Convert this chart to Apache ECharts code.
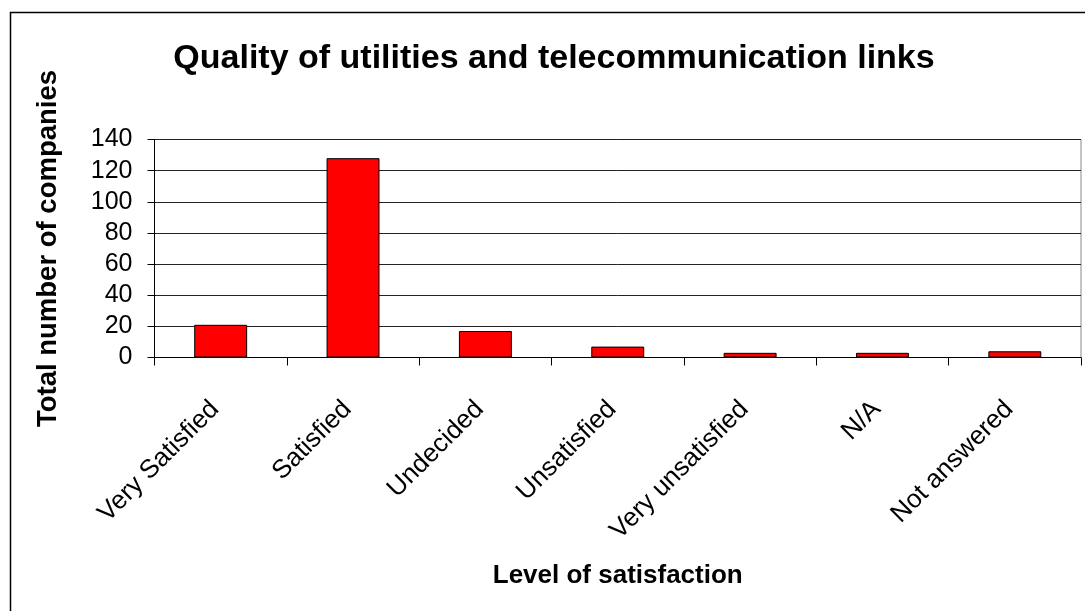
<!DOCTYPE html>
<html>
<head>
<meta charset="utf-8">
<script src="https://cdn.jsdelivr.net/npm/echarts@6/dist/echarts.min.js"></script>
<style>
html,body{margin:0;padding:0;background:#fff;}
#chart{width:1085px;height:611px;}
</style>
</head>
<body>
<div id="chart"></div>
<script>
const categories = ["Very Satisfied", "Satisfied", "Undecided", "Unsatisfied", "Very unsatisfied", "N/A", "Not answered"];
const companies = [21, 128, 17, 7, 3, 3, 4];
const yTicks = [0, 20, 40, 60, 80, 100, 120, 140];
const titleText = "Quality of utilities and telecommunication links";
const xName = "Level of satisfaction";
const yName = "Total number of companies";

const FONT = 'Arial, "Liberation Sans", sans-serif';
const chart = echarts.init(document.getElementById('chart'), null, {renderer: 'canvas'});
chart.setOption({
  animation: false,
  backgroundColor: '#fff',
  graphic: [{
    type: 'rect', left: 8, top: 10, silent: true,
    shape: {width: 1200, height: 700},
    style: {fill: 'none', stroke: '#000', lineWidth: 1.5}
  }],
  title: {
    text: titleText, left: 549, top: 37, textAlign: 'center',
    textStyle: {fontFamily: FONT, fontWeight: 'bold', fontSize: 34, color: '#000'}
  },
  grid: {left: 154.5, right: 4, top: 139.5, bottom: 253.5, show: true, borderColor: '#888', borderWidth: 1, containLabel: false},
  xAxis: {
    type: 'category', data: categories,
    name: xName, nameLocation: 'middle', nameGap: 205,
    nameTextStyle: {fontFamily: FONT, fontWeight: 'bold', fontSize: 26, color: '#000'},
    axisLine: {lineStyle: {color: '#000', width: 1}},
    axisTick: {show: true, length: 8, lineStyle: {color: '#000'}},
    axisLabel: {rotate: 45, margin: 42, padding: [0, 8, 0, 0], interval: 0, fontFamily: FONT, fontSize: 26, color: '#000'},
    splitLine: {show: false}
  },
  yAxis: {
    type: 'value', min: yTicks[0], max: yTicks[yTicks.length - 1], interval: 20,
    name: yName, nameLocation: 'middle', nameGap: 92, nameRotate: 90,
    nameTextStyle: {fontFamily: FONT, fontWeight: 'bold', fontSize: 27.5, color: '#000'},
    axisLine: {show: true, lineStyle: {color: '#000', width: 1}},
    axisTick: {show: true, length: 7, lineStyle: {color: '#000'}},
    axisLabel: {margin: 22, fontFamily: FONT, fontSize: 25, color: '#000'},
    splitLine: {show: true, lineStyle: {color: '#222', width: 1}}
  },
  series: [{
    type: 'bar', data: companies, barWidth: '40%',
    itemStyle: {color: '#ff0000', borderColor: '#000', borderWidth: 1}
  }]
});
</script>
</body>
</html>
